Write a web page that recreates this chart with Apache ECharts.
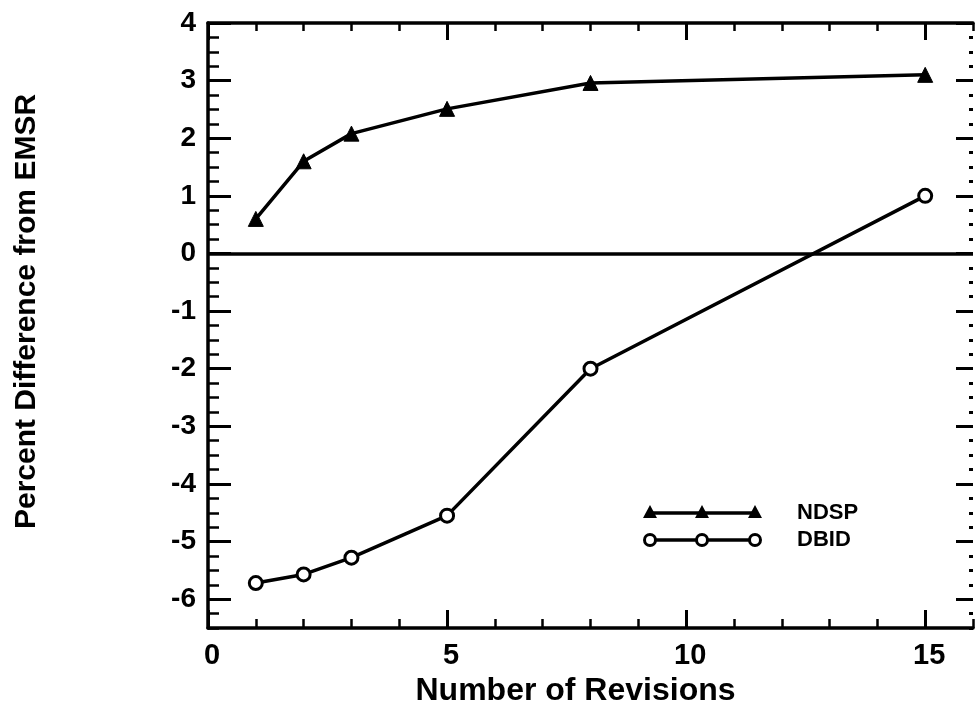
<!DOCTYPE html>
<html>
<head>
<meta charset="utf-8">
<script src="https://cdn.jsdelivr.net/npm/echarts@6/dist/echarts.min.js"></script>
<style>
html,body{margin:0;padding:0;background:#fff;}
#main{width:975px;height:712px;}
</style>
</head>
<body>
<div id="main"></div>
<script>
// ---- data ----
const revisions = [1, 2, 3, 5, 8, 15];
const ndspValues = [0.6, 1.6, 2.08, 2.51, 2.96, 3.1];
const dbidValues = [-5.72, -5.57, -5.28, -4.55, -2.0, 1.0];
const seriesNames = ['NDSP', 'DBID'];
const xMajorTicks = [0, 5, 10, 15];
const yMajorTicks = [-6, -5, -4, -3, -2, -1, 0, 1, 2, 3, 4];
const xTitle = 'Number of Revisions';
const yTitle = 'Percent Difference from EMSR';

const FONT = '"Liberation Sans", Arial, Helvetica, sans-serif';
const AXW = 3.5;

function pairs(xs, ys) { return xs.map((x, i) => [x, ys[i]]); }

const chart = echarts.init(document.getElementById('main'), null, {renderer: 'canvas'});

const xBase = {type: 'value', min: 0, max: 16, splitLine: {show: false}};
const yBase = {type: 'value', min: -6.5, max: 4, splitLine: {show: false}};

const option = {
  backgroundColor: '#ffffff',
  animation: false,
  grid: {left: 208, right: 2, top: 23, bottom: 84, containLabel: false},
  xAxis: [
    Object.assign({}, xBase, {
      position: 'bottom',
      axisLine: {show: true, onZero: false, lineStyle: {color: '#000', width: AXW}},
      axisTick: {show: true, inside: true, length: 18, customValues: xMajorTicks, lineStyle: {color: '#000', width: 3}},
      axisLabel: {show: true, customValues: xMajorTicks, margin: 13, color: '#000', fontFamily: FONT, fontWeight: 'bold', fontSize: 29, padding: [0, 0, 0, 8]},
      name: xTitle, nameLocation: 'middle', nameGap: 40,
      nameTextStyle: {color: '#000', fontFamily: FONT, fontWeight: 'bold', fontSize: 32, padding: [0, 30, 0, 0]}
    }),
    Object.assign({}, xBase, {
      position: 'bottom', interval: 1,
      axisLine: {show: false, onZero: false},
      axisTick: {show: true, inside: true, length: 9, lineStyle: {color: '#000', width: 2.5}},
      axisLabel: {show: false}
    }),
    Object.assign({}, xBase, {
      position: 'top',
      axisLine: {show: true, onZero: false, lineStyle: {color: '#000', width: AXW}},
      axisTick: {show: true, inside: true, length: 17, customValues: xMajorTicks, lineStyle: {color: '#000', width: 3}},
      axisLabel: {show: false}
    }),
    Object.assign({}, xBase, {
      position: 'top', interval: 1,
      axisLine: {show: false, onZero: false},
      axisTick: {show: true, inside: true, length: 8, lineStyle: {color: '#000', width: 2.5}},
      axisLabel: {show: false}
    })
  ],
  yAxis: [
    Object.assign({}, yBase, {
      position: 'left',
      axisLine: {show: true, onZero: false, lineStyle: {color: '#000', width: AXW}},
      axisTick: {show: true, inside: true, length: 23, customValues: yMajorTicks, lineStyle: {color: '#000', width: 3}},
      axisLabel: {show: true, customValues: yMajorTicks, margin: 12, color: '#000', fontFamily: FONT, fontWeight: 'bold', fontSize: 28},
      name: yTitle, nameLocation: 'middle', nameGap: 166, nameRotate: 90,
      nameTextStyle: {color: '#000', fontFamily: FONT, fontWeight: 'bold', fontSize: 30, padding: [0, 0, 0, 28]}
    }),
    Object.assign({}, yBase, {
      position: 'left', interval: 0.25,
      axisLine: {show: false, onZero: false},
      axisTick: {show: true, inside: true, length: 11, lineStyle: {color: '#000', width: 2.5}},
      axisLabel: {show: false}
    }),
    Object.assign({}, yBase, {
      position: 'right',
      axisLine: {show: false, onZero: false},
      axisTick: {show: true, inside: true, length: 17, customValues: yMajorTicks, lineStyle: {color: '#000', width: 3}},
      axisLabel: {show: false}
    }),
    Object.assign({}, yBase, {
      position: 'right', interval: 0.25,
      axisLine: {show: false, onZero: false},
      axisTick: {show: true, inside: true, length: 4, lineStyle: {color: '#000', width: 3}},
      axisLabel: {show: false}
    })
  ],
  series: [
    {
      name: seriesNames[0], type: 'line', xAxisIndex: 0, yAxisIndex: 0,
      data: pairs(revisions, ndspValues),
      symbol: 'triangle', symbolSize: 15, showAllSymbol: true,
      lineStyle: {color: '#000', width: 3.5},
      itemStyle: {color: '#000', borderColor: '#000', borderWidth: 1},
      markLine: {
        silent: true, symbol: ['none', 'none'],
        label: {show: false},
        lineStyle: {color: '#000', width: 3.5, type: 'solid'},
        data: [{yAxis: 0}]
      },
      z: 3
    },
    {
      name: seriesNames[1], type: 'line', xAxisIndex: 0, yAxisIndex: 0,
      data: pairs(revisions, dbidValues),
      symbol: 'circle', symbolSize: 13, showAllSymbol: true,
      lineStyle: {color: '#000', width: 3.5},
      itemStyle: {color: '#fff', borderColor: '#000', borderWidth: 3},
      z: 3
    }
  ],
  graphic: [
    // legend row 1 (NDSP)
    {type: 'line', shape: {x1: 650, y1: 513, x2: 755, y2: 513}, style: {stroke: '#000', lineWidth: 3.5}},
    {type: 'polygon', shape: {points: [[650, 505], [643, 518], [657, 518]]}, style: {fill: '#000'}},
    {type: 'polygon', shape: {points: [[702, 505], [695, 518], [709, 518]]}, style: {fill: '#000'}},
    {type: 'polygon', shape: {points: [[755, 505], [748, 518], [762, 518]]}, style: {fill: '#000'}},
    {type: 'text', x: 797, y: 513, style: {text: seriesNames[0], fill: '#000', font: 'bold 22px ' + FONT, verticalAlign: 'middle', align: 'left'}},
    // legend row 2 (DBID)
    {type: 'line', shape: {x1: 650, y1: 540, x2: 755, y2: 540}, style: {stroke: '#000', lineWidth: 3.5}},
    {type: 'circle', shape: {cx: 650, cy: 540, r: 5.5}, style: {fill: '#fff', stroke: '#000', lineWidth: 3}},
    {type: 'circle', shape: {cx: 702, cy: 540, r: 5.5}, style: {fill: '#fff', stroke: '#000', lineWidth: 3}},
    {type: 'circle', shape: {cx: 755, cy: 540, r: 5.5}, style: {fill: '#fff', stroke: '#000', lineWidth: 3}},
    {type: 'text', x: 797, y: 540, style: {text: seriesNames[1], fill: '#000', font: 'bold 22px ' + FONT, verticalAlign: 'middle', align: 'left'}}
  ]
};

chart.setOption(option);
</script>
</body>
</html>
